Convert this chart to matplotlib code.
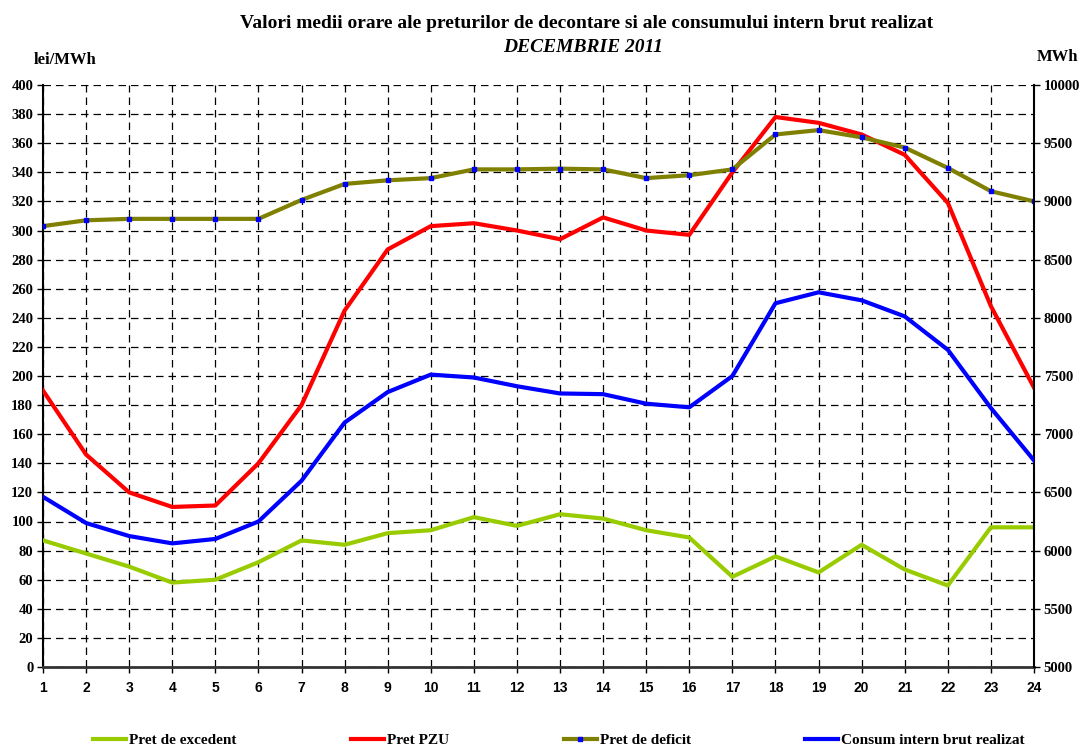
import numpy as np
import matplotlib.pyplot as plt

# Hourly data, December 2011
hours = list(range(1, 25))
pret_excedent = [87, 78, 69, 58, 60, 72, 87, 84, 92, 94, 103, 97,
                 105, 102, 94, 89, 62, 76, 65, 84, 67, 56, 96, 96]
pret_pzu = [190, 146, 120, 110, 111, 140, 180, 245, 287, 303, 305, 300,
            294, 309, 300, 297, 340, 378, 374, 366, 352, 319, 248, 192]
pret_deficit = [303, 307, 308, 308, 308, 308, 321, 332, 334.5, 336, 342, 342,
                342.5, 342, 336, 338, 342, 366, 369, 364, 357, 343, 327, 320]
consum = [6462, 6237, 6125, 6062, 6100, 6250, 6600, 7100, 7362, 7512, 7487, 7412,
          7350, 7344, 7262, 7231, 7500, 8125, 8219, 8150, 8012, 7725, 7225, 6775]

serif = 'Liberation Serif'
sans = 'Liberation Sans'

fig = plt.figure(figsize=(10.84, 7.51), dpi=100)
ax = fig.add_axes([43/1084, 84/751, 991/1084, 582/751])
ax2 = ax.twinx()

ax.plot(hours, pret_excedent, color='#99CC00', lw=3, label='Pret de excedent', zorder=3)
ax.plot(hours, pret_pzu, color='#FF0000', lw=3, label='Pret PZU', zorder=3)
ax.plot(hours, pret_deficit, color='#808000', lw=3, marker='s', markersize=2.5,
        markerfacecolor='#0000FF', markeredgecolor='#0000FF', label='Pret de deficit', zorder=3)
ax2.plot(hours, consum, color='#0000FF', lw=3, label='Consum intern brut realizat', zorder=3)

ax.set_xlim(1, 24)
ax.set_ylim(0, 400)
ax2.set_ylim(5000, 10000)
ax.set_xticks(hours)
ax.set_yticks(np.arange(0, 401, 20))
ax2.set_yticks(np.arange(5000, 10001, 500))

ax.grid(True, color='black', linestyle=(0, (6, 4)), linewidth=0.9)
ax.set_axisbelow(True)

for a in (ax, ax2):
    a.spines['top'].set_visible(False)
ax.spines['right'].set_visible(False)
ax2.spines['left'].set_visible(False)
ax2.spines['bottom'].set_visible(False)
ax.spines['left'].set_linewidth(1.5)
ax2.spines['right'].set_linewidth(1.5)
ax.spines['bottom'].set_linewidth(2)
ax.spines['bottom'].set_color('#333333')

ax.tick_params(axis='x', length=4, width=1, pad=6)
ax.tick_params(axis='y', length=4, width=1, pad=3)
ax2.tick_params(axis='y', length=4, width=1, pad=3)
for lab in ax.get_xticklabels():
    lab.set_fontfamily(sans)
    lab.set_fontweight('bold')
    lab.set_fontsize(10)
for lab in ax.get_yticklabels() + ax2.get_yticklabels():
    lab.set_fontfamily(serif)
    lab.set_fontweight('bold')
    lab.set_fontsize(10.5)

fig.text(587/1084, 1 - 23/751, 'Valori medii orare ale preturilor de decontare si ale consumului intern brut realizat',
         ha='center', va='center', fontfamily=serif, fontweight='bold', fontsize=14)
fig.text(583/1084, 1 - 48/751, 'DECEMBRIE 2011', ha='center', va='center',
         fontfamily=serif, fontweight='bold', fontstyle='italic', fontsize=14)
fig.text(65/1084, 1 - 60/751, 'lei/MWh', ha='center', va='center',
         fontfamily=serif, fontweight='bold', fontsize=12)
fig.text(1058/1084, 1 - 57/751, 'MWh', ha='center', va='center',
         fontfamily=serif, fontweight='bold', fontsize=12)

h1, l1 = ax.get_legend_handles_labels()
h2, l2 = ax2.get_legend_handles_labels()
fig.legend(h1 + h2, l1 + l2, loc='center', bbox_to_anchor=(559/1084, 1 - 740/751), ncol=4,
           frameon=False, handlelength=2.15, handletextpad=0.2, columnspacing=7.5,
           prop={'family': serif, 'weight': 'bold', 'size': 11})

fig.savefig('out.png', dpi=100)
